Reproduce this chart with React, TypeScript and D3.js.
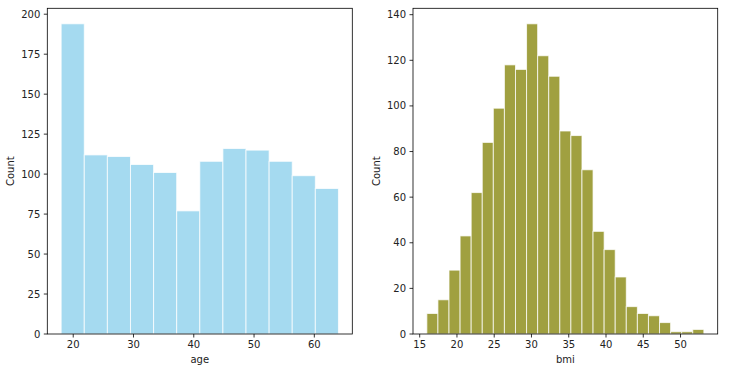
import React from "react";
import * as d3 from "d3";

// histogram counts
const ageCounts = [194, 112, 111, 106, 101, 77, 108, 116, 115, 108, 99, 91];
const ageRange = [18, 64];
const ageTicks = [20, 30, 40, 50, 60];
const ageYTicks = [0, 25, 50, 75, 100, 125, 150, 175, 200];

const bmiCounts = [
  9, 15, 28, 43, 62, 84, 99, 118, 116, 136, 122, 113, 89, 87, 72, 45, 37, 25,
  12, 9, 8, 5, 1, 1, 2,
];
const bmiRange = [15.96, 53.13];
const bmiTicks = [15, 20, 25, 30, 35, 40, 45, 50];
const bmiYTicks = [0, 20, 40, 60, 80, 100, 120, 140];

const FONT = "DejaVu Sans, sans-serif";

function Hist({ left, right, top, bottom, counts, range, xTicks, yTicks, color, label }) {
  const n = counts.length;
  const step = (range[1] - range[0]) / n;
  const edges = d3.range(n + 1).map((i) => range[0] + i * step);
  const pad = (range[1] - range[0]) * 0.05;
  const x = d3.scaleLinear().domain([range[0] - pad, range[1] + pad]).range([left, right]);
  const y = d3.scaleLinear().domain([0, d3.max(counts) * 1.05]).range([bottom, top]);

  return (
    <g fontFamily={FONT} fontSize={10} fill="#000">
      {counts.map((c, i) => (
        <rect
          key={i}
          x={x(edges[i])}
          width={x(edges[i + 1]) - x(edges[i])}
          y={y(c)}
          height={y(0) - y(c)}
          fill={color}
          fillOpacity={0.75}
          stroke="#fff"
          strokeOpacity={0.75}
          strokeWidth={1}
        />
      ))}
      <rect x={left} y={top} width={right - left} height={bottom - top} fill="none" stroke="#000" strokeWidth={0.8} />
      {xTicks.map((t) => (
        <g key={t} transform={`translate(${x(t)},${bottom})`}>
          <line y2={3.5} stroke="#000" strokeWidth={0.8} />
          <text y={14} textAnchor="middle" fill="#222">{t}</text>
        </g>
      ))}
      {yTicks.map((t) => (
        <g key={t} transform={`translate(${left},${y(t)})`}>
          <line x2={-3.5} stroke="#000" strokeWidth={0.8} />
          <text x={-7} dy="0.35em" textAnchor="end" fill="#222">{t}</text>
        </g>
      ))}
      <text x={(left + right) / 2} y={bottom + 29} textAnchor="middle" fill="#222">{label}</text>
      <text
        transform={`translate(${left - 33},${(top + bottom) / 2}) rotate(-90)`}
        textAnchor="middle"
        fill="#222"
      >
        Count
      </text>
    </g>
  );
}

export default function App() {
  return (
    <svg width={739} height={368} style={{ position: "absolute", left: 0, top: 0, background: "#fff" }}>
      <Hist
        left={47.3}
        right={352.3}
        top={8.3}
        bottom={334}
        counts={ageCounts}
        range={ageRange}
        xTicks={ageTicks}
        yTicks={ageYTicks}
        color="#87ceeb"
        label="age"
      />
      <Hist
        left={413}
        right={717.7}
        top={8.3}
        bottom={334}
        counts={bmiCounts}
        range={bmiRange}
        xTicks={bmiTicks}
        yTicks={bmiYTicks}
        color="#808000"
        label="bmi"
      />
    </svg>
  );
}
